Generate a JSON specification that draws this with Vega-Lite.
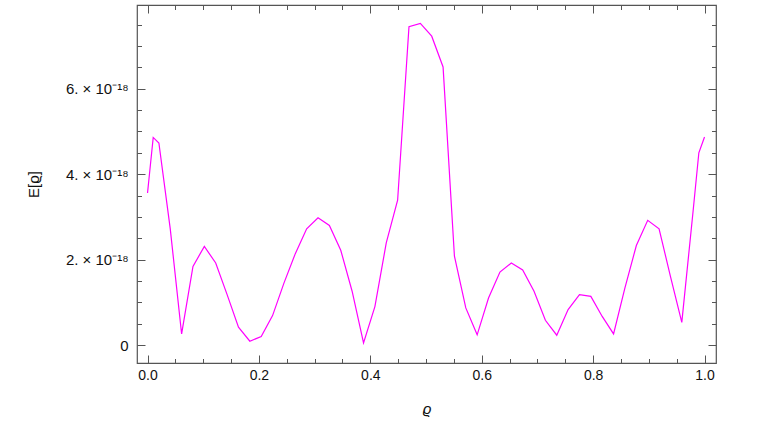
{
  "$schema": "https://vega.github.io/schema/vega-lite/v6.json",
  "autosize": "none",
  "width": 579,
  "height": 358,
  "padding": {"left": 137, "top": 5, "right": 56, "bottom": 62},
  "background": "white",
  "config": {
    "view": {"stroke": "#555555", "strokeWidth": 1.2},
    "axis": {"domain": false, "grid": false, "labelFont": "Liberation Sans", "titleFont": "Liberation Sans", "labelColor": "#111111", "titleColor": "#111111", "tickColor": "#555555", "tickWidth": 1, "labelFontSize": 14, "titleFontSize": 15, "titleFontWeight": "normal"}
  },
  "data": {"values": [
    {"x": 0, "E": 3.56e-18},
    {"x": 0.0102, "E": 4.86e-18},
    {"x": 0.0204, "E": 4.73e-18},
    {"x": 0.0408, "E": 2.72e-18},
    {"x": 0.0612, "E": 0.26e-18},
    {"x": 0.0816, "E": 1.84e-18},
    {"x": 0.1020, "E": 2.31e-18},
    {"x": 0.1224, "E": 1.92e-18},
    {"x": 0.1429, "E": 1.18e-18},
    {"x": 0.1633, "E": 0.42e-18},
    {"x": 0.1837, "E": 0.09e-18},
    {"x": 0.2041, "E": 0.20e-18},
    {"x": 0.2245, "E": 0.69e-18},
    {"x": 0.2449, "E": 1.45e-18},
    {"x": 0.2653, "E": 2.14e-18},
    {"x": 0.2857, "E": 2.72e-18},
    {"x": 0.3061, "E": 2.98e-18},
    {"x": 0.3265, "E": 2.80e-18},
    {"x": 0.3469, "E": 2.22e-18},
    {"x": 0.3673, "E": 1.26e-18},
    {"x": 0.3878, "E": 0.05e-18},
    {"x": 0.4082, "E": 0.90e-18},
    {"x": 0.4286, "E": 2.39e-18},
    {"x": 0.4490, "E": 3.39e-18},
    {"x": 0.4694, "E": 7.45e-18},
    {"x": 0.4898, "E": 7.53e-18},
    {"x": 0.5102, "E": 7.23e-18},
    {"x": 0.5306, "E": 6.51e-18},
    {"x": 0.5510, "E": 2.08e-18},
    {"x": 0.5714, "E": 0.87e-18},
    {"x": 0.5918, "E": 0.24e-18},
    {"x": 0.6122, "E": 1.10e-18},
    {"x": 0.6327, "E": 1.71e-18},
    {"x": 0.6531, "E": 1.92e-18},
    {"x": 0.6735, "E": 1.76e-18},
    {"x": 0.6939, "E": 1.26e-18},
    {"x": 0.7143, "E": 0.58e-18},
    {"x": 0.7347, "E": 0.23e-18},
    {"x": 0.7551, "E": 0.83e-18},
    {"x": 0.7755, "E": 1.18e-18},
    {"x": 0.7959, "E": 1.14e-18},
    {"x": 0.8163, "E": 0.67e-18},
    {"x": 0.8367, "E": 0.26e-18},
    {"x": 0.8571, "E": 1.34e-18},
    {"x": 0.8776, "E": 2.33e-18},
    {"x": 0.8980, "E": 2.92e-18},
    {"x": 0.9184, "E": 2.72e-18},
    {"x": 0.9388, "E": 1.61e-18},
    {"x": 0.9592, "E": 0.53e-18},
    {"x": 0.9796, "E": 3.15e-18},
    {"x": 0.9898, "E": 4.50e-18},
    {"x": 1.0, "E": 4.87e-18}
  ]},
  "resolve": {"axis": {"x": "independent", "y": "independent"}},
  "layer": [
    {
      "mark": {"type": "line", "color": "#FF00FF", "strokeWidth": 1.2, "clip": true},
      "encoding": {
        "x": {"field": "x", "type": "quantitative", "scale": {"domain": [-0.0189, 1.0206], "nice": false, "zero": false},
          "axis": {"orient": "bottom", "values": [0, 0.2, 0.4, 0.6, 0.8, 1.0], "ticks": false, "labelPadding": 5, "format": ".1f", "title": "ϱ", "titleFontStyle": "italic", "titleX": 289.5, "titleY": 45, "titleBaseline": "middle", "titleAlign": "center", "labelFlush": false}},
        "y": {"field": "E", "type": "quantitative", "scale": {"domain": [-0.42e-18, 7.96e-18], "nice": false, "zero": false},
          "axis": {"orient": "left", "values": [0, 2e-18, 4e-18, 6e-18], "ticks": false, "labelPadding": 9, "labelFontSize": 15, "labelExpr": "datum.value == 0 ? '0' : round(datum.value * 1e18) + '. × 10⁻¹⁸'", "title": "E[ϱ]", "titleX": -104, "titleY": 179, "titleAngle": -90, "titleBaseline": "middle", "titleAlign": "center"}}
      }
    },
    {
      "mark": {"type": "line", "opacity": 0},
      "encoding": {
        "x": {"field": "x", "type": "quantitative", "scale": {"domain": [-0.0189, 1.0206], "nice": false, "zero": false},
          "axis": {"orient": "bottom", "values": [0, 0.2, 0.4, 0.6, 0.8, 1.0], "tickSize": -8, "labels": false, "title": null}},
        "y": {"field": "E", "type": "quantitative", "scale": {"domain": [-0.42e-18, 7.96e-18], "nice": false, "zero": false},
          "axis": {"orient": "left", "values": [0, 2e-18, 4e-18, 6e-18], "tickSize": -8, "labels": false, "title": null}}
      }
    },
    {
      "mark": {"type": "line", "opacity": 0},
      "encoding": {
        "x": {"field": "x", "type": "quantitative", "scale": {"domain": [-0.0189, 1.0206], "nice": false, "zero": false},
          "axis": {"orient": "bottom", "values": [0.05, 0.1, 0.15, 0.25, 0.3, 0.35, 0.45, 0.5, 0.55, 0.65, 0.7, 0.75, 0.85, 0.9, 0.95], "tickSize": -4.5, "labels": false, "title": null}},
        "y": {"field": "E", "type": "quantitative", "scale": {"domain": [-0.42e-18, 7.96e-18], "nice": false, "zero": false},
          "axis": {"orient": "left", "values": [0.5e-18, 1e-18, 1.5e-18, 2.5e-18, 3e-18, 3.5e-18, 4.5e-18, 5e-18, 5.5e-18, 6.5e-18, 7e-18, 7.5e-18], "tickSize": -4.5, "labels": false, "title": null}}
      }
    },
    {
      "mark": {"type": "line", "opacity": 0},
      "encoding": {
        "x": {"field": "x", "type": "quantitative", "scale": {"domain": [-0.0189, 1.0206], "nice": false, "zero": false},
          "axis": {"orient": "top", "values": [0, 0.2, 0.4, 0.6, 0.8, 1.0], "tickSize": -8, "labels": false, "title": null}},
        "y": {"field": "E", "type": "quantitative", "scale": {"domain": [-0.42e-18, 7.96e-18], "nice": false, "zero": false},
          "axis": {"orient": "right", "values": [0, 2e-18, 4e-18, 6e-18], "tickSize": -8, "labels": false, "title": null}}
      }
    },
    {
      "mark": {"type": "line", "opacity": 0},
      "encoding": {
        "x": {"field": "x", "type": "quantitative", "scale": {"domain": [-0.0189, 1.0206], "nice": false, "zero": false},
          "axis": {"orient": "top", "values": [0.05, 0.1, 0.15, 0.25, 0.3, 0.35, 0.45, 0.5, 0.55, 0.65, 0.7, 0.75, 0.85, 0.9, 0.95], "tickSize": -4.5, "labels": false, "title": null}},
        "y": {"field": "E", "type": "quantitative", "scale": {"domain": [-0.42e-18, 7.96e-18], "nice": false, "zero": false},
          "axis": {"orient": "right", "values": [0.5e-18, 1e-18, 1.5e-18, 2.5e-18, 3e-18, 3.5e-18, 4.5e-18, 5e-18, 5.5e-18, 6.5e-18, 7e-18, 7.5e-18], "tickSize": -4.5, "labels": false, "title": null}}
      }
    }
  ]
}
